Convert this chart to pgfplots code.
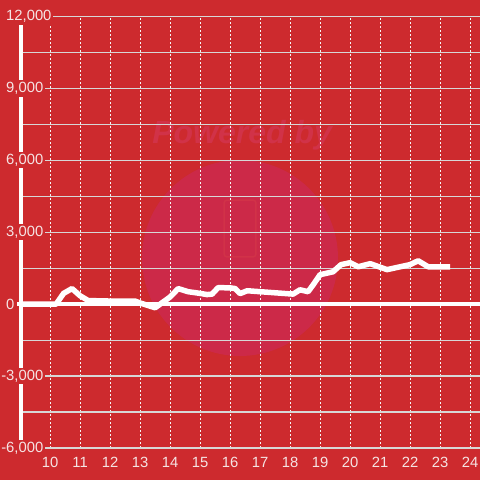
\documentclass[border=0pt]{standalone}
\usepackage{pgfplots}
\pgfplotsset{compat=1.18}
\usepackage{fontspec}
\setmainfont{Liberation Sans}
\definecolor{bgred}{RGB}{205,42,46}
\definecolor{wm}{RGB}{204,41,72}
\definecolor{wmtext}{RGB}{209,50,72}
\definecolor{gridgray}{RGB}{215,215,215}
\definecolor{lbl}{RGB}{245,228,228}
\begin{document}
\begin{tikzpicture}
\begin{axis}[
  set layers=standard,
  at={(21pt,32pt)}, anchor=south west,
  width=459pt, height=431.5pt, scale only axis,
  xmin=9.03, xmax=24.33, ymin=-6000, ymax=12000,
  scaled y ticks=false,
  axis x line*=bottom, axis y line*=left,
  x axis line style={draw=none},
  y axis line style={draw=white, line width=4pt},
  xtick={10,11,12,13,14,15,16,17,18,19,20,21,22,23,24},
  xticklabels={10,11,12,13,14,15,16,17,18,19,20,21,22,23,24},
  ytick={-6000,-3000,0,3000,6000,9000,12000},
  yticklabels={{\llap{-}6,000},{\llap{-}3,000},{0},{3,000},{6,000},{9,000},{12,000}},
  minor y tick num=1,
  ymajorgrids, yminorgrids, xmajorgrids,
  y grid style={gridgray, line width=1.2pt, solid},
  x grid style={white!92!gray, line width=0.8pt, dash pattern=on 2pt off 2pt},
  major tick length=0pt, minor tick length=0pt,
  tick label style={lbl, font=\fontsize{14.8}{16}\selectfont},
  yticklabel style={anchor=west, xshift=-17pt, fill=bgred, inner sep=2pt},
  xticklabel style={anchor=center, yshift=-14pt},
  clip=false,
]
\begin{pgfonlayer}{axis background}
\fill[bgred] (axis cs:8.33,-7335) rectangle (axis cs:24.33,12688);
\fill[wm] (axis cs:16.33,1926) circle[radius=98pt];
\node[wmtext, font=\fontsize{32}{36}\selectfont\bfseries\itshape] at (axis cs:16.4,7057) {Powered by};
\draw[wmtext, line width=1.5pt, rounded corners=3pt] (axis cs:15.8,1968) rectangle (axis cs:16.86,4345);
\end{pgfonlayer}
\addplot[white, line width=4pt, forget plot] coordinates {(8.9,0) (24.33,0)};
\addplot[white, line width=5.5pt, line join=round] coordinates {
(9.03,0) (10.2,0) (10.45,450) (10.73,650) (11.0,350) (11.27,150) (12.0,130)
(12.83,130) (13.0,50) (13.5,-150) (14.0,300) (14.27,650) (14.6,520) (15.0,450)
(15.23,400) (15.4,420) (15.6,690) (16.0,680) (16.17,650) (16.33,440) (16.57,560)
(17.0,520) (18.1,420) (18.33,600) (18.6,520) (18.77,810) (19.0,1230) (19.43,1350)
(19.7,1650) (20.0,1730) (20.27,1560) (20.67,1690) (21.23,1440) (22.0,1650)
(22.27,1810) (22.6,1560) (23.33,1560)};
\end{axis}
\pgfresetboundingbox
\path[use as bounding box] (0,0) rectangle (480pt,480pt);
\end{tikzpicture}
\end{document}
